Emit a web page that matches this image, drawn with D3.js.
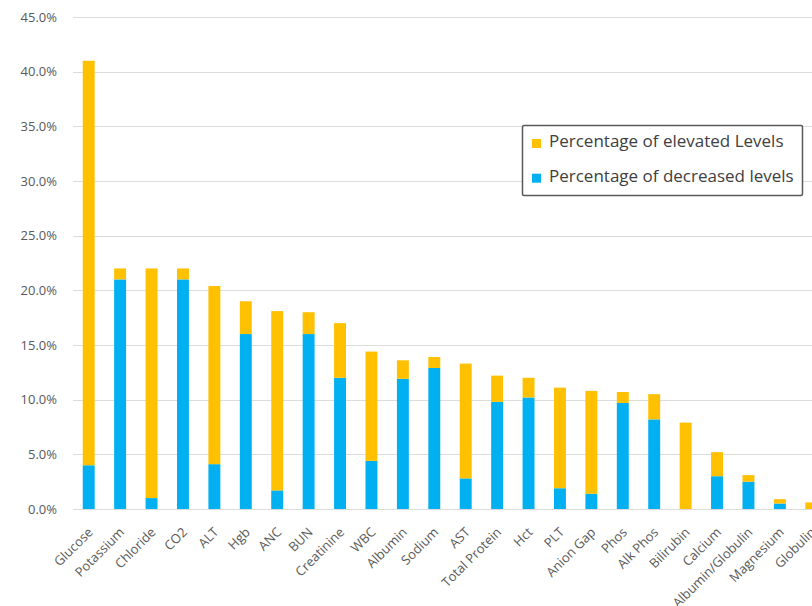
<!DOCTYPE html>
<html>
<head>
<meta charset="utf-8">
<script src="https://cdn.jsdelivr.net/npm/d3@7"></script>
<style>
  html, body { margin: 0; padding: 0; background: #fff; }
  svg { display: block; font-family: "Open Sans", "Noto Sans", sans-serif; }
</style>
</head>
<body>
<svg id="chart" width="812" height="606"></svg>
<script>
// Lab parameters, ordered by total share of abnormal results
const categories = ["Glucose", "Potassium", "Chloride", "CO2", "ALT", "Hgb", "ANC", "BUN",
  "Creatinine", "WBC", "Albumin", "Sodium", "AST", "Total Protein", "Hct", "PLT",
  "Anion Gap", "Phos", "Alk Phos", "Bilirubin", "Calcium", "Albumin/Globulin",
  "Magnesium", "Globulin"];

// Percentage of decreased levels (bottom segment)
const decreased = [4.0, 21.0, 1.0, 21.0, 4.1, 16.0, 1.7, 16.0,
  12.0, 4.4, 11.9, 12.9, 2.8, 9.8, 10.2, 1.9,
  1.4, 9.7, 8.2, 0.0, 3.0, 2.5,
  0.5, 0.0];

// Percentage of elevated levels (top segment)
const elevated = [37.0, 1.0, 21.0, 1.0, 16.3, 3.0, 16.4, 2.0,
  5.0, 10.0, 1.7, 1.0, 10.5, 2.4, 1.8, 9.2,
  9.4, 1.0, 2.3, 7.9, 2.2, 0.6,
  0.4, 0.6];

const yTicks = [0, 5, 10, 15, 20, 25, 30, 35, 40, 45];

const seriesNames = ["Percentage of elevated Levels", "Percentage of decreased levels"];
const colors = { decreased: "#00B0F0", elevated: "#FFC000" };

const svg = d3.select("#chart");
const W = 812, H = 606;
const plot = { left: 73, right: 827, top: 17, bottom: 509 };

const x = d3.scaleBand()
  .domain(categories)
  .range([plot.left, plot.right])
  .paddingInner(0.62)
  .paddingOuter(0.31);

const y = d3.scaleLinear()
  .domain([0, 45])
  .range([plot.bottom, plot.top]);

// Horizontal gridlines
svg.append("g")
  .selectAll("line")
  .data(yTicks)
  .join("line")
  .attr("x1", plot.left)
  .attr("x2", W)
  .attr("y1", d => Math.round(y(d)) + 0.5)
  .attr("y2", d => Math.round(y(d)) + 0.5)
  .attr("stroke", "#dcdcdc")
  .attr("stroke-width", 1.2);

// Y axis labels
const yAxis = d3.axisLeft(y)
  .tickValues(yTicks)
  .tickFormat(d => d.toFixed(1) + "%")
  .tickSize(0)
  .tickPadding(0);

const gy = svg.append("g")
  .attr("transform", "translate(57,0)")
  .call(yAxis);
gy.select(".domain").remove();
gy.selectAll("text")
  .attr("fill", "#595959")
  .attr("font-size", "13px")
  .attr("font-family", "'Open Sans', sans-serif");

// Stacked bars
const rows = categories.map((c, i) => ({ cat: c, decreased: decreased[i], elevated: elevated[i] }));
const stack = d3.stack().keys(["decreased", "elevated"]);
const layers = stack(rows);

svg.append("g")
  .selectAll("g")
  .data(layers)
  .join("g")
  .attr("fill", d => colors[d.key])
  .selectAll("rect")
  .data(d => d)
  .join("rect")
  .attr("x", d => x(d.data.cat))
  .attr("width", x.bandwidth())
  .attr("y", d => y(d[1]))
  .attr("height", d => Math.max(0, y(d[0]) - y(d[1])));

// Category labels, rotated
const xAxis = d3.axisBottom(x).tickSize(0).tickPadding(0);
const gx = svg.append("g")
  .attr("transform", `translate(0,${plot.bottom})`)
  .call(xAxis);
gx.select(".domain").remove();
gx.selectAll("text")
  .attr("fill", "#595959")
  .attr("font-size", "13px")
  .attr("font-family", "'Open Sans', sans-serif")
  .attr("text-anchor", "end")
  .attr("dy", null)
  .attr("y", null)
  .attr("transform", "translate(5,24) rotate(-45)");

// Legend
const legend = svg.append("g").attr("transform", "translate(522,125)");
legend.append("rect")
  .attr("x", 0.5).attr("y", 0.5)
  .attr("width", 280).attr("height", 70)
  .attr("fill", "#fff")
  .attr("stroke", "#595959")
  .attr("stroke-width", 1.5)
  .attr("rx", 1.5);

const legendKeys = ["elevated", "decreased"];
legendKeys.forEach((k, i) => {
  const base = 22 + i * 34.7;
  legend.append("rect")
    .attr("x", 10).attr("y", base - 8)
    .attr("width", 9).attr("height", 9)
    .attr("fill", colors[k]);
  legend.append("text")
    .attr("x", 27).attr("y", base)
    .attr("fill", "#404040")
    .attr("font-size", "17px")
    .text(seriesNames[i]);
});
</script>
</body>
</html>
